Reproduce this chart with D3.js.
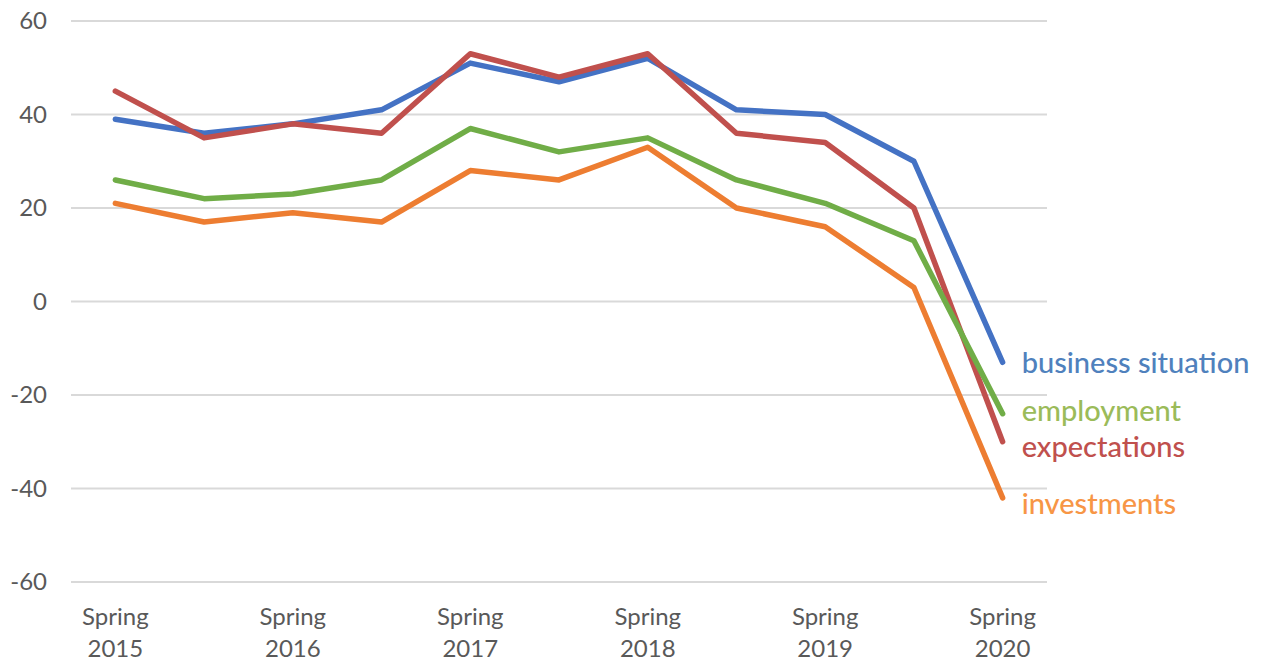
<!DOCTYPE html>
<html>
<head>
<meta charset="utf-8">
<script src="https://cdn.jsdelivr.net/npm/d3@7"></script>
<style>
  body { margin: 0; background: #fff; }
  svg { display: block; font-family: "Lato", "Noto Sans", sans-serif; }
</style>
</head>
<body>
<div id="chart-area"></div>
<script>
// survey waves, labelled on spring only
const periods = ["Spring 2015", "Autumn 2015", "Spring 2016", "Autumn 2016", "Spring 2017", "Autumn 2017",
  "Spring 2018", "Autumn 2018", "Spring 2019", "Autumn 2019", "Spring 2020"]

const seriesNames = ["business situation", "expectations", "employment", "investments"]
const businessSituation = [39, 36, 38, 41, 51, 47, 52, 41, 40, 30, -13]
const expectations = [45, 35, 38, 36, 53, 48, 53, 36, 34, 20, -30]
const employment = [26, 22, 23, 26, 37, 32, 35, 26, 21, 13, -24]
const investments = [21, 17, 19, 17, 28, 26, 33, 20, 16, 3, -42]
const yTicks = [-60, -40, -20, 0, 20, 40, 60]

const lineColors = ["#4472C4", "#C0504D", "#70AD47", "#ED7D31"]
const labelColors = ["#4F81BD", "#C0504D", "#9BBB59", "#F79646"]
const labelNudge = [1, 5, -3, 6]

const WIDTH = 1266
const HEIGHT = 662
const PLOT = { LEFT: 71, RIGHT: 1047, TOP: 21, BOTTOM: 582 }

const svg = d3.select("#chart-area").append("svg")
  .attr("width", WIDTH)
  .attr("height", HEIGHT)

const x = d3.scalePoint()
  .domain(periods)
  .range([PLOT.LEFT, PLOT.RIGHT])
  .padding(0.5)

const y = d3.scaleLinear()
  .domain([-60, 60])
  .range([PLOT.BOTTOM, PLOT.TOP])

// gridlines
svg.append("g")
  .selectAll("line")
  .data(yTicks)
  .enter().append("line")
  .attr("x1", PLOT.LEFT)
  .attr("x2", PLOT.RIGHT)
  .attr("y1", d => y(d))
  .attr("y2", d => y(d))
  .attr("stroke", "#d9d9d9")
  .attr("stroke-width", 2)

// y axis labels (plain hyphen for negatives)
const yAxisGroup = svg.append("g")
  .attr("transform", `translate(${PLOT.LEFT - 24},0)`)
  .call(d3.axisLeft(y).tickValues(yTicks).tickSize(0).tickPadding(0).tickFormat(d => String(d)))
yAxisGroup.select(".domain").remove()
yAxisGroup.selectAll("text")
  .attr("font-size", "24px")
  .attr("font-family", "Lato, 'Noto Sans', sans-serif")
  .attr("fill", "#595959")

// x axis labels, two lines
const xLabels = svg.append("g")
  .selectAll("text")
  .data(periods.filter(p => p.startsWith("Spring")))
  .enter().append("text")
  .attr("x", d => x(d))
  .attr("y", 625)
  .attr("text-anchor", "middle")
  .attr("font-size", "24px")
  .attr("fill", "#595959")
xLabels.append("tspan")
  .attr("x", d => x(d))
  .text(d => d.split(" ")[0])
xLabels.append("tspan")
  .attr("x", d => x(d))
  .attr("dy", 32)
  .text(d => d.split(" ")[1])

const allSeries = [businessSituation, expectations, employment, investments]
const line = d3.line()
  .x((d, i) => x(periods[i]))
  .y(d => y(d))

svg.append("g")
  .selectAll("path")
  .data(allSeries)
  .enter().append("path")
  .attr("d", d => line(d))
  .attr("fill", "none")
  .attr("stroke", (d, i) => lineColors[i])
  .attr("stroke-width", 5.5)
  .attr("stroke-linejoin", "round")
  .attr("stroke-linecap", "round")

// end labels
svg.append("g")
  .selectAll("text")
  .data(allSeries)
  .enter().append("text")
  .attr("x", x(periods[periods.length - 1]) + 19)
  .attr("y", (d, i) => y(d[d.length - 1]) + labelNudge[i])
  .attr("dy", "0.35em")
  .attr("font-size", "29px")
  .attr("font-weight", 500)
  .attr("fill", (d, i) => labelColors[i])
  .text((d, i) => seriesNames[i])
</script>
</body>
</html>
